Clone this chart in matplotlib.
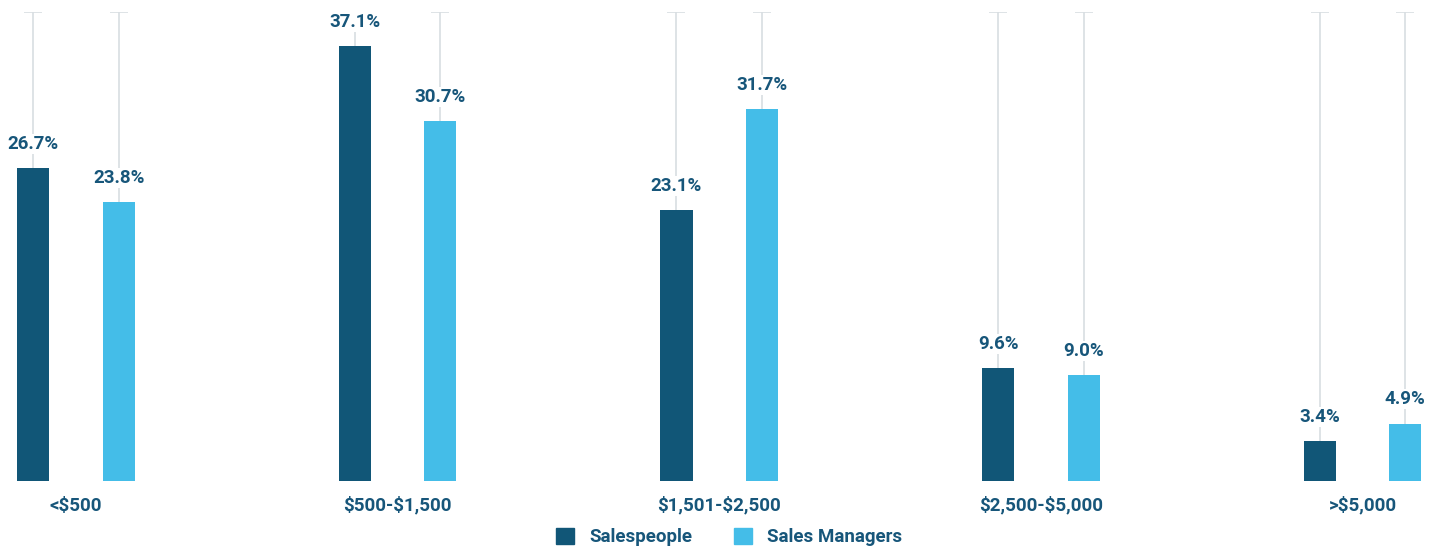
import numpy as np
import matplotlib.pyplot as plt
from matplotlib.patches import Patch

plt.rcParams['font.family'] = ['Roboto', 'DejaVu Sans']
plt.rcParams['text.parse_math'] = False

# Data
categories = ['<$500', '$500-$1,500', '$1,501-$2,500', '$2,500-$5,000', '>$5,000']
salespeople = [26.7, 37.1, 23.1, 9.6, 3.4]
sales_managers = [23.8, 30.7, 31.7, 9.0, 4.9]
series_names = ['Salespeople', 'Sales Managers']

dark = '#115677'
light = '#44BDE8'
text_col = '#17567A'
grid_col = '#D8DEE2'

x = np.arange(len(categories))
offset = 0.133
width = 0.1

fig = plt.figure(figsize=(14.41, 5.48), dpi=100)
ax = fig.add_axes([0, 1 - 481 / 548, 1, 469 / 548])

for xs, vals, col in [(x - offset, salespeople, dark), (x + offset, sales_managers, light)]:
    # thin gray guide with a cap at the top
    ax.vlines(xs, 0, 40, color=grid_col, lw=1.2, zorder=1)
    ax.hlines([40] * len(xs), xs - 0.028, xs + 0.028, color=grid_col, lw=1.2, zorder=1)
    ax.bar(xs, vals, width=width, color=col, zorder=2)
    for xi, v in zip(xs, vals):
        ax.annotate(f'{v:.1f}%', (xi, v), xytext=(0, 11), textcoords='offset points',
                    ha='center', va='bottom', fontsize=13.5, fontweight='bold',
                    color=text_col, zorder=3,
                    bbox=dict(boxstyle='square,pad=0.05', fc='white', ec='none'))

ax.set_xlim(-0.236, 4.244)
ax.set_ylim(0, 40)
ax.axis('off')

for xi, lab in zip(x, categories):
    ax.text(xi, -2.1, lab, ha='center', va='center', fontsize=13.5,
            fontweight='bold', color=text_col)

handles = [Patch(color=dark), Patch(color=light)]
leg = fig.legend(handles, series_names, loc='center', bbox_to_anchor=(0.506, 1 - 537 / 548),
                 ncol=2, frameon=False, handlelength=1.0, handleheight=1.0,
                 handletextpad=0.8, columnspacing=2.2,
                 prop={'size': 13.5, 'weight': 'bold'})
for t in leg.get_texts():
    t.set_color(text_col)

fig.savefig('out.png', dpi=100)
